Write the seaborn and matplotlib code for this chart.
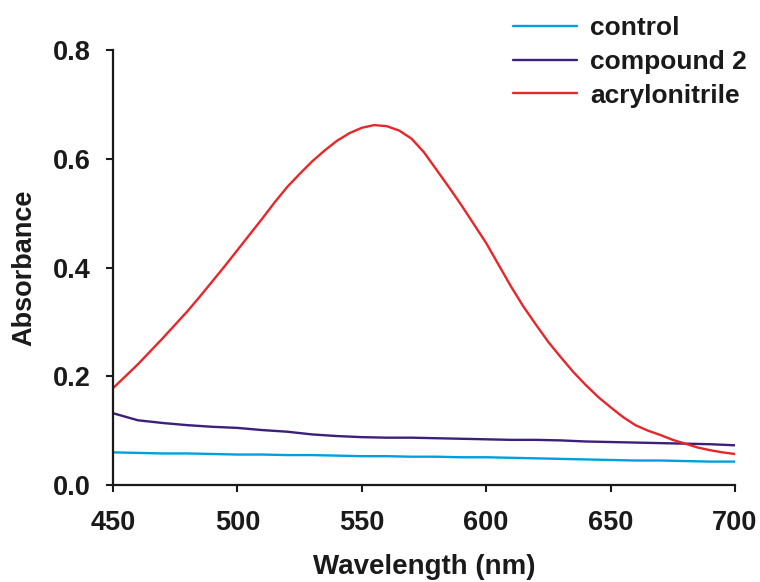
import pandas as pd
import numpy as np
import matplotlib.pyplot as plt
import seaborn as sns

# datos
wavelength = [450, 460, 470, 480, 490, 500, 510, 520, 530, 540, 550, 560, 570,
              580, 590, 600, 610, 620, 630, 640, 650, 660, 670, 680, 690, 700]
control = [0.060, 0.059, 0.058, 0.058, 0.057, 0.056, 0.056, 0.055, 0.055, 0.054,
           0.053, 0.053, 0.052, 0.052, 0.051, 0.051, 0.050, 0.049, 0.048, 0.047,
           0.046, 0.045, 0.045, 0.044, 0.043, 0.043]
compound2 = [0.132, 0.119, 0.114, 0.110, 0.107, 0.105, 0.101, 0.098, 0.093, 0.090,
             0.088, 0.087, 0.087, 0.086, 0.085, 0.084, 0.083, 0.083, 0.082, 0.080,
             0.079, 0.078, 0.077, 0.076, 0.075, 0.073]
wavelength_acr = list(range(450, 701, 5))
acrylonitrile = [0.178, 0.200, 0.222, 0.246, 0.270, 0.295, 0.320, 0.347, 0.375, 0.403,
                 0.432, 0.461, 0.490, 0.520, 0.548, 0.572, 0.595, 0.615, 0.633, 0.647,
                 0.657, 0.662, 0.660, 0.652, 0.637, 0.612, 0.580, 0.548, 0.515, 0.480,
                 0.445, 0.405, 0.365, 0.328, 0.295, 0.263, 0.235, 0.208, 0.184, 0.162,
                 0.143, 0.125, 0.110, 0.100, 0.092, 0.083, 0.076, 0.069, 0.064, 0.060,
                 0.057]

series = ['control', 'compound 2', 'acrylonitrile']
colores = ['#00A0E0', '#3B1F7A', '#E8262A']

df = pd.concat([
    pd.DataFrame({'Wavelength': wavelength, 'Absorbance': control, 'Sample': 'control'}),
    pd.DataFrame({'Wavelength': wavelength, 'Absorbance': compound2, 'Sample': 'compound 2'}),
    pd.DataFrame({'Wavelength': wavelength_acr, 'Absorbance': acrylonitrile, 'Sample': 'acrylonitrile'}),
], ignore_index=True)

sns.set_style('white')
plt.rcParams['font.family'] = ['Liberation Sans', 'DejaVu Sans']
plt.rcParams['font.weight'] = 'bold'

fig = plt.figure(figsize=(7.6, 5.82), dpi=100)
ax = fig.add_axes([0.1487, 0.1667, 0.8183, 0.7473])
sns.lineplot(data=df, x='Wavelength', y='Absorbance', hue='Sample', hue_order=series,
             palette=dict(zip(series, colores)), linewidth=1.7, ax=ax)

ax.set_xlim(450, 700)
ax.set_ylim(0, 0.8)
ax.set_xticks([450, 500, 550, 600, 650, 700])
ax.set_yticks([0.0, 0.2, 0.4, 0.6, 0.8])
ax.set_yticklabels(['0.0', '0.2', '0.4', '0.6', '0.8'])
ax.set_xlabel('Wavelength (nm)', fontsize=20, fontweight='bold', labelpad=13)
ax.set_ylabel('Absorbance', fontsize=19.5, fontweight='bold', labelpad=11)
ax.tick_params(axis='both', labelsize=19.5, direction='out', length=5, width=1.5,
               colors='#1a1a1a', left=True, bottom=True)
ax.tick_params(axis='x', pad=13)
ax.tick_params(axis='y', pad=11)
for lbl in ax.get_xticklabels() + ax.get_yticklabels():
    lbl.set_fontweight('bold')
sns.despine(ax=ax)
for sp in ['left', 'bottom']:
    ax.spines[sp].set_linewidth(1.6)
    ax.spines[sp].set_color('#1a1a1a')
ax.xaxis.label.set_color('#1a1a1a')
ax.yaxis.label.set_color('#1a1a1a')

leg = ax.legend(loc='upper left', bbox_to_anchor=(0.657, 0.995), bbox_transform=fig.transFigure,
                frameon=False, fontsize=19, handlelength=2.45, handletextpad=0.5,
                labelspacing=0.37, borderaxespad=0.1)
for t in leg.get_texts():
    t.set_fontweight('bold')
    t.set_color('#1a1a1a')

fig.savefig('out.png', dpi=100)
